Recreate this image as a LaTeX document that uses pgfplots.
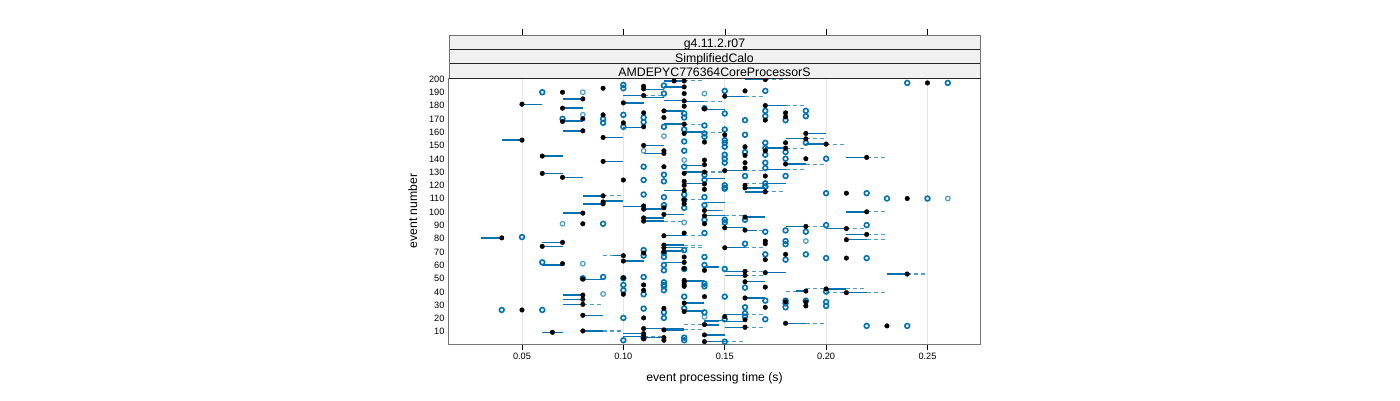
\documentclass[border=0pt]{standalone}
\usepackage{pgfplots}
\usepackage{pgfplotstable}
\usepackage{fontspec}
\setmainfont{Liberation Sans}
\pgfplotsset{compat=1.18}
\definecolor{rblue}{HTML}{0072B2}
\definecolor{stripbg}{HTML}{F0F0F0}

% medians
\pgfplotstableread{
x y
0.125 198
0.13 198
0.17 199
0.25 196.5
0.11 194
0.11 192
0.09 192.5
0.13 193.5
0.07 189.5
0.16 190.5
0.13 188.5
0.11 187
0.13 183
0.08 184.5
0.05 180.5
0.10 181.5
0.15 186.5
0.17 179.5
0.13 179
0.07 177.5
0.12 175.5
0.09 172.5
0.14 177
0.11 174
0.18 174
0.18 171
0.12 170.5
0.08 169.5
0.07 167.5
0.10 166.5
0.11 163.5
0.17 168.5
0.13 165.5
0.08 160.5
0.13 158.5
0.15 157.5
0.19 158.5
0.19 154.5
0.09 155.5
0.05 153.5
0.14 152
0.20 150.5
0.18 151.5
0.18 147.5
0.16 148.5
0.16 142
0.11 149.5
0.12 145.5
0.12 143.5
0.06 141.5
0.09 137.5
0.14 138.5
0.14 135
0.16 136.5
0.16 132.5
0.15 130.5
0.12 133.5
0.19 139.5
0.18 135.5
0.22 140.5
0.17 145.5
0.06 128.5
0.07 125.5
0.13 128.5
0.14 129.5
0.10 123.5
0.17 126.5
0.13 122.5
0.13 119.5
0.14 120.5
0.14 116.5
0.16 119.5
0.16 117.6
0.17 114.6
0.21 113.6
0.24 109.6
0.13 115.6
0.09 111.6
0.09 107
0.09 105.6
0.13 108.6
0.13 105.6
0.11 104
0.11 101.6
0.12 102.6
0.14 100.6
0.14 96.6
0.22 99.6
0.08 98.6
0.12 97.6
0.11 95
0.11 92.6
0.08 90.6
0.14 90.6
0.15 87.6
0.16 85.8
0.16 95.6
0.19 88.6
0.21 87
0.22 82.6
0.21 78.6
0.04 80
0.12 81.6
0.13 83.6
0.07 76.6
0.06 73.6
0.12 74.6
0.12 72.6
0.12 69.6
0.11 68.6
0.10 66.6
0.10 62.6
0.13 65.6
0.13 61.6
0.07 60.6
0.13 57
0.14 55.6
0.15 72.6
0.17 77.6
0.17 75.6
0.18 67.6
0.17 63.6
0.21 64.8
0.08 49
0.10 50
0.10 37.6
0.11 44.6
0.11 40.6
0.13 48
0.13 46.6
0.13 44.6
0.13 43.6
0.14 35.8
0.08 37
0.08 33.8
0.08 30
0.13 31
0.13 24.6
0.14 14.8
0.05 25.8
0.12 27
0.08 21.8
0.11 19.8
0.11 11.8
0.12 10.8
0.065 9
0.08 10
0.11 8
0.11 6
0.11 4
0.12 5
0.12 3
0.14 7
0.14 2
0.16 47
0.17 43
0.19 40
0.20 41.6
0.21 38.8
0.16 34.8
0.18 32
0.19 31.8
0.19 28.8
0.17 27.8
0.15 20.8
0.16 18.4
0.16 12.8
0.18 15.8
0.23 13.8
0.16 54.8
0.16 51.8
0.17 53.8
0.24 52.8
}\medians

% outliers
\pgfplotstableread{
x y
0.10 195
0.10 192.5
0.12 194.5
0.12 188.5
0.06 189.5
0.15 190.5
0.17 190.5
0.24 196.5
0.26 196.5
0.14 177.5
0.15 173.5
0.13 173.5
0.13 170.5
0.10 172.5
0.11 170.5
0.09 169.5
0.09 166.5
0.11 167
0.07 169.5
0.14 164.5
0.12 163.5
0.10 163.5
0.13 161.5
0.14 158.5
0.14 156
0.15 161.5
0.16 168.5
0.17 175.5
0.17 171.5
0.18 168.5
0.19 175.5
0.19 171.5
0.16 157.5
0.15 153.5
0.15 151.5
0.15 148.5
0.13 152.5
0.13 145.5
0.19 151.5
0.17 151.5
0.17 147.5
0.17 142.5
0.16 144.5
0.18 144.5
0.15 142.5
0.15 139.5
0.15 136.5
0.18 139.5
0.20 139.5
0.13 133.5
0.11 133.5
0.17 136.5
0.17 132.5
0.16 126.5
0.18 126.5
0.14 127.5
0.14 123.5
0.12 127.5
0.12 122.5
0.11 123.5
0.17 121
0.17 118.5
0.15 119.5
0.15 117.5
0.11 112.6
0.12 110.6
0.13 112.6
0.14 110.6
0.13 108.6
0.14 104.6
0.12 104.6
0.13 102.6
0.14 93.6
0.09 90.6
0.17 118.6
0.15 117
0.20 113.6
0.22 113.6
0.23 109.6
0.25 109.6
0.16 93.6
0.15 93.6
0.15 91.6
0.17 84.6
0.18 85.6
0.19 84.6
0.20 89.6
0.22 89.6
0.05 80.6
0.14 83.6
0.13 70.8
0.11 70.8
0.11 66.6
0.12 68.6
0.12 65.6
0.14 65.6
0.06 61.6
0.12 59.6
0.12 55.6
0.13 56.6
0.14 59.6
0.18 77.6
0.18 75.2
0.16 75.6
0.17 67.6
0.19 67.6
0.18 63.6
0.20 64.8
0.22 64.8
0.15 56.6
0.08 49.6
0.09 50.6
0.10 49.6
0.11 50.6
0.10 44.6
0.10 40.6
0.11 37.6
0.12 46.6
0.12 44.6
0.12 43.6
0.12 40.6
0.14 45.6
0.14 43.6
0.13 35.8
0.16 42.6
0.20 39.6
0.15 35.8
0.17 32.8
0.16 27.8
0.18 32.8
0.18 30.8
0.18 27.8
0.19 32.8
0.20 31.8
0.20 28.8
0.13 27
0.14 24
0.04 25.8
0.06 25.8
0.11 26.8
0.12 24
0.12 19.8
0.10 19.8
0.16 23.4
0.16 20.8
0.15 18.8
0.17 18.8
0.22 13.8
0.24 13.8
0.11 4.8
0.10 3
0.13 5
0.13 3
0.15 2
}\outliers

% the faint outliers
\pgfplotstableread{
x y
0.08 189.5
0.14 188.5
0.08 172.5
0.12 156.5
0.13 138.5
0.11 145.5
0.13 91.6
0.07 90.6
0.26 109.6
0.08 60.6
0.19 77.6
0.09 37.8
0.14 20.6
}\faint

% box part: start, event, length
\pgfplotstableread{
x y d
0.12 198 0.01
0.12 193.5 0.01
0.11 191.5 0.01
0.10 187 0.01
0.11 185.5 0.01
0.07 184.5 0.01
0.12 183.5 0.01
0.13 182.5 0.01
0.05 180.5 0.01
0.10 181.5 0.01
0.07 177.5 0.01
0.14 176.5 0.01
0.12 175.5 0.01
0.07 168 0.01
0.10 163 0.01
0.12 165.5 0.01
0.13 159.5 0.01
0.07 160.5 0.01
0.09 155.5 0.01
0.04 153.5 0.01
0.11 149.5 0.01
0.11 143.5 0.01
0.06 141.5 0.01
0.09 137.5 0.01
0.13 134.5 0.01
0.06 128.5 0.01
0.07 125.5 0.01
0.13 129.5 0.01
0.13 121 0.01
0.16 199 0.01
0.15 186.5 0.01
0.17 179.5 0.01
0.19 158.5 0.01
0.18 154.5 0.01
0.19 150.5 0.01
0.17 147.5 0.01
0.21 140.5 0.01
0.18 135.5 0.01
0.15 130.5 0.01
0.17 131.5 0.01
0.14 124.5 0.01
0.17 121 0.01
0.16 117.5 0.01
0.12 115.6 0.01
0.08 111.6 0.01
0.08 105.6 0.01
0.09 107.6 0.01
0.10 103.6 0.01
0.11 101.6 0.01
0.14 100.6 0.007
0.07 98.6 0.01
0.12 97.6 0.01
0.14 96.6 0.01
0.11 95 0.01
0.11 92.6 0.01
0.16 114.6 0.01
0.21 99.6 0.01
0.14 106.6 0.01
0.16 95.6 0.01
0.15 87.6 0.01
0.16 85.6 0.006
0.18 88.6 0.01
0.20 87 0.01
0.21 82.6 0.01
0.21 78.6 0.01
0.03 80 0.01
0.12 81.6 0.01
0.06 76.6 0.01
0.06 73.6 0.01
0.12 74.6 0.01
0.12 72.6 0.01
0.12 70 0.01
0.095 66.6 0.005
0.10 62.6 0.01
0.12 61.6 0.01
0.06 59.6 0.01
0.14 58 0.007
0.15 72.6 0.01
0.15 54.8 0.01
0.15 51.8 0.01
0.17 53.8 0.01
0.23 52.8 0.01
0.08 48.8 0.01
0.13 47.6 0.01
0.16 47 0.01
0.07 37 0.01
0.07 33.8 0.01
0.07 30 0.01
0.13 31 0.01
0.13 25 0.01
0.08 21.8 0.01
0.11 11.8 0.02
0.12 10.8 0.01
0.06 9 0.01
0.08 10 0.01
0.10 8 0.01
0.10 6 0.01
0.11 5 0.01
0.14 7 0.01
0.14 2 0.01
0.14 17.6 0.007
0.14 14.6 0.007
0.185 40 0.005
0.20 41.6 0.01
0.21 38.8 0.01
0.16 34.8 0.01
0.15 22.6 0.01
0.14 17.8 0.01
0.15 17 0.01
0.15 12.8 0.01
0.18 15.8 0.01
}\boxes

% whisker part: start, event, length
\pgfplotstableread{
x y d
0.13 198 0.01
0.17 199 0.01
0.11 187 0.01
0.16 186.5 0.01
0.14 182.5 0.01
0.18 179.5 0.01
0.13 165.5 0.01
0.14 159.5 0.01
0.19 154.5 0.01
0.20 150.5 0.01
0.18 147.5 0.01
0.22 140.5 0.01
0.19 135.5 0.01
0.16 130.5 0.01
0.18 131.5 0.01
0.14 129.5 0.01
0.16 121 0.01
0.09 111.6 0.01
0.13 108.6 0.01
0.17 114.6 0.01
0.22 99.6 0.01
0.12 92.6 0.01
0.147 100.6 0.003
0.15 96.6 0.01
0.16 85.6 0.01
0.19 88.6 0.01
0.21 87 0.01
0.22 82.6 0.01
0.22 78.6 0.01
0.13 81.6 0.01
0.13 74.6 0.01
0.13 72.6 0.01
0.09 66.6 0.005
0.16 72.6 0.01
0.16 54.8 0.01
0.16 51.8 0.01
0.24 52.8 0.01
0.08 30 0.01
0.18 40 0.005
0.19 42 0.01
0.21 41.6 0.01
0.20 39 0.01
0.22 38.8 0.01
0.16 22.6 0.01
0.13 14.6 0.01
0.19 15.8 0.01
0.16 12.8 0.01
0.13 10.8 0.01
0.09 10 0.01
0.11 6 0.01
0.15 2 0.01
}\whiskers

\begin{document}
\begin{tikzpicture}[x=1pt,y=1pt]
\path[use as bounding box] (-449,-56) rectangle (951,344);
\begin{axis}[
    at={(0,0)}, anchor=south west,
    scale only axis,
    width=531pt, height=266pt,
    xmin=0.014, xmax=0.2759,
    ymin=0.2, ymax=200.2,
    xtick={0.05,0.10,0.15,0.20,0.25},
    ytick={10,20,...,200},
    xticklabel pos=bottom,
    tick align=outside,
    xtick pos=bottom,
    ytick pos=left,
    major tick length=6pt,
    y tick style={draw=none},
    x tick style={black, line width=0.6pt},
    ylabel shift=5pt,
    xlabel shift=6pt,
    xmajorgrids,
    grid style={draw=black!10, line width=0.8pt},
    axis line style={draw=black!55, line width=1pt},
    tick label style={font=\fontsize{9.2}{11}\selectfont},
    label style={font=\fontsize{12.2}{14}\selectfont},
    xlabel={event processing time (s)},
    ylabel={event number},
    /pgf/number format/assume math mode=true,
    xticklabel style={/pgf/number format/.cd, fixed, fixed zerofill, precision=2},
    yticklabel style={xshift=5pt, yshift=-0.8pt},
    clip=true,
]
\addplot[draw=none, forget plot, error bars/.cd, x dir=plus, x explicit, error mark=none,
    error bar style={draw=rblue!70, dash pattern=on 4pt off 3pt, line width=1.1pt}]
    table[x=x, y=y, x error=d] {\whiskers};
\addplot[draw=none, forget plot, error bars/.cd, x dir=plus, x explicit, error mark=none,
    error bar style={draw=rblue, solid, line width=1.4pt}]
    table[x=x, y=y, x error=d] {\boxes};
\addplot[only marks, mark=*, mark size=2.3pt, mark options={draw=rblue!70, fill=white, fill opacity=0, line width=1.2pt}]
    table[x=x, y=y] {\faint};
\addplot[only marks, mark=*, mark size=2.4pt, mark options={draw=rblue, fill=white, fill opacity=0, line width=1.6pt}]
    table[x=x, y=y] {\outliers};
\addplot[only marks, mark=*, mark size=2.3pt, mark options={draw=none, fill=black}]
    table[x=x, y=y] {\medians};
\end{axis}
% strips above the panel
\foreach \yb/\yt/\lab in {266/280.3/AMDEPYC776364CoreProcessorS,280.3/294.7/SimplifiedCalo,294.7/309/g4.11.2.r07}{
  \filldraw[fill=stripbg, draw=black!85, line width=0.9pt] (0,\yb) rectangle (531,\yt);
  \node[font=\fontsize{12.3}{14}\selectfont, inner sep=0pt, anchor=base] at (265.5,{\yb+1.7}) {\lab};
}
\draw[black!55, line width=1pt] (0,266) -- (0,309) -- (531,309) -- (531,266);
\foreach \xx in {73,174.5,276,377.5,478.5}{
  \draw[black, line width=0.6pt] (\xx,309) -- (\xx,315);
}
\end{tikzpicture}
\end{document}
